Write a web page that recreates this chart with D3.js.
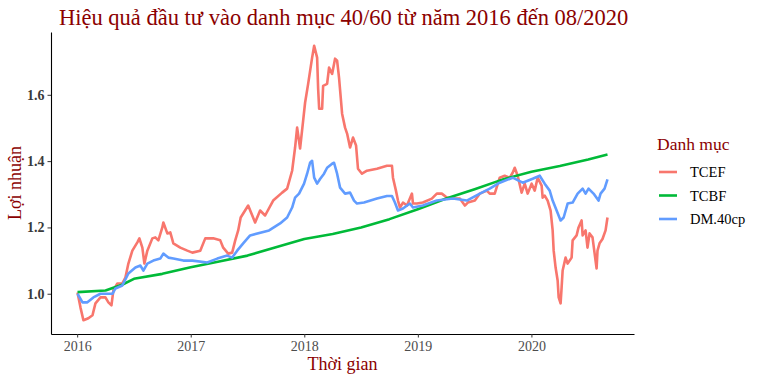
<!DOCTYPE html>
<html><head><meta charset="utf-8">
<script src="https://cdn.jsdelivr.net/npm/d3@7"></script>
<style>body{margin:0;background:#fff}svg{display:block}</style>
</head><body>
<svg id="c" width="762" height="377"></svg>
<script>
// ---- data (decimal year, value) ----
const seriesNames = ["TCEF", "TCBF", "DM.40cp"];
const xTicks = [2016, 2017, 2018, 2019, 2020];
const yTicks = [1.0, 1.2, 1.4, 1.6];

const tcefT = [2016.003,2016.029,2016.055,2016.099,2016.135,2016.161,2016.205,2016.249,2016.275,2016.302,2016.319,2016.354,2016.398,2016.425,2016.451,2016.486,2016.530,2016.548,2016.574,2016.592,2016.618,2016.662,2016.688,2016.715,2016.750,2016.759,2016.794,2016.820,2016.847,2016.908,2016.970,2017.014,2017.084,2017.128,2017.198,2017.260,2017.286,2017.330,2017.365,2017.392,2017.418,2017.440,2017.506,2017.567,2017.611,2017.655,2017.726,2017.805,2017.849,2017.893,2017.919,2017.937,2017.963,2017.990,2018.007,2018.034,2018.069,2018.087,2018.113,2018.122,2018.131,2018.157,2018.166,2018.201,2018.218,2018.245,2018.271,2018.289,2018.306,2018.333,2018.359,2018.377,2018.403,2018.429,2018.456,2018.473,2018.508,2018.552,2018.640,2018.728,2018.772,2018.781,2018.807,2018.825,2018.843,2018.869,2018.904,2018.948,2018.957,2018.992,2019.044,2019.123,2019.167,2019.211,2019.255,2019.308,2019.370,2019.414,2019.440,2019.502,2019.546,2019.607,2019.633,2019.677,2019.721,2019.765,2019.809,2019.835,2019.853,2019.879,2019.914,2019.941,2019.967,2020.002,2020.029,2020.055,2020.090,2020.099,2020.117,2020.143,2020.169,2020.187,2020.196,2020.213,2020.231,2020.240,2020.257,2020.266,2020.275,2020.301,2020.319,2020.354,2020.363,2020.398,2020.415,2020.442,2020.451,2020.477,2020.494,2020.512,2020.538,2020.574,2020.582,2020.600,2020.626,2020.653,2020.670];
const tcefV = [1.004,0.959,0.920,0.926,0.935,0.971,0.989,0.989,0.974,0.965,1.010,1.031,1.031,1.049,1.091,1.130,1.155,1.167,1.139,1.091,1.130,1.167,1.170,1.161,1.200,1.215,1.182,1.185,1.152,1.139,1.130,1.124,1.130,1.167,1.167,1.161,1.139,1.121,1.124,1.161,1.191,1.230,1.266,1.215,1.251,1.236,1.281,1.305,1.317,1.371,1.441,1.501,1.438,1.522,1.576,1.633,1.712,1.748,1.712,1.618,1.558,1.558,1.627,1.633,1.682,1.663,1.709,1.703,1.652,1.543,1.501,1.483,1.441,1.471,1.447,1.377,1.362,1.371,1.377,1.386,1.386,1.350,1.311,1.281,1.260,1.275,1.266,1.302,1.272,1.272,1.275,1.287,1.302,1.302,1.290,1.287,1.287,1.266,1.275,1.281,1.302,1.311,1.302,1.302,1.350,1.356,1.350,1.365,1.380,1.356,1.305,1.332,1.302,1.332,1.311,1.350,1.326,1.290,1.296,1.281,1.251,1.191,1.130,1.079,1.040,0.989,0.971,1.019,1.070,1.109,1.091,1.109,1.161,1.176,1.200,1.221,1.176,1.191,1.139,1.182,1.170,1.076,1.130,1.152,1.165,1.191,1.230];

const tcbfT = [2016.003,2016.250,2016.400,2016.500,2016.750,2017.000,2017.250,2017.500,2017.750,2018.000,2018.250,2018.500,2018.750,2019.000,2019.250,2019.500,2019.750,2020.000,2020.250,2020.500,2020.670];
const tcbfV = [1.005,1.010,1.028,1.045,1.060,1.080,1.097,1.115,1.140,1.165,1.180,1.200,1.225,1.255,1.287,1.315,1.345,1.368,1.385,1.405,1.420];

const dmT = [2016.003,2016.047,2016.090,2016.143,2016.205,2016.267,2016.311,2016.337,2016.398,2016.451,2016.513,2016.557,2016.583,2016.618,2016.671,2016.732,2016.759,2016.803,2016.847,2016.935,2017.014,2017.146,2017.234,2017.321,2017.365,2017.409,2017.462,2017.523,2017.690,2017.787,2017.849,2017.893,2017.919,2017.954,2017.998,2018.025,2018.051,2018.069,2018.087,2018.113,2018.139,2018.174,2018.201,2018.245,2018.262,2018.289,2018.315,2018.359,2018.403,2018.438,2018.464,2018.526,2018.640,2018.728,2018.772,2018.798,2018.825,2018.869,2018.930,2018.957,2019.044,2019.167,2019.308,2019.431,2019.546,2019.633,2019.721,2019.835,2019.923,2020.011,2020.073,2020.117,2020.161,2020.187,2020.222,2020.257,2020.284,2020.319,2020.363,2020.407,2020.451,2020.477,2020.503,2020.547,2020.591,2020.609,2020.644,2020.670];
const dmV = [1.000,0.974,0.974,0.989,1.000,1.000,1.000,1.016,1.025,1.061,1.079,1.085,1.070,1.091,1.100,1.106,1.121,1.109,1.106,1.100,1.100,1.094,1.106,1.115,1.109,1.130,1.152,1.176,1.191,1.212,1.230,1.260,1.290,1.302,1.332,1.362,1.395,1.401,1.350,1.332,1.346,1.362,1.380,1.392,1.395,1.362,1.320,1.302,1.305,1.281,1.272,1.275,1.287,1.295,1.295,1.275,1.251,1.257,1.272,1.260,1.266,1.281,1.287,1.281,1.302,1.317,1.335,1.350,1.335,1.347,1.356,1.332,1.311,1.281,1.251,1.221,1.230,1.272,1.275,1.302,1.317,1.302,1.317,1.302,1.281,1.302,1.317,1.345];

const colors = ["#F8766D", "#00BA38", "#619CFF"];
const seriesT = [tcefT, tcbfT, dmT];
const seriesV = [tcefV, tcbfV, dmV];

// ---- layout ----
const svg = d3.select("#c");
const M = {left: 51, right: 634, top: 32, bottom: 334};
const serif = "'Liberation Serif','DejaVu Serif',serif";
const dark = "#8B0000";

const allT = [].concat(...seriesT), allV = [].concat(...seriesV);
const tExt = d3.extent(allT), vExt = d3.extent(allV);
const tPad = (tExt[1]-tExt[0])*0.05, vPad = (vExt[1]-vExt[0])*0.05;
const x = d3.scaleLinear().domain([tExt[0]-tPad, tExt[1]+tPad]).range([M.left, M.right]);
const y = d3.scaleLinear().domain([vExt[0]-vPad, vExt[1]+vPad]).range([M.bottom, M.top]);

// lines
const line = d3.line().x(d => x(d[0])).y(d => y(d[1]));
seriesNames.forEach((n, i) => {
  const pts = seriesT[i].map((t, j) => [t, seriesV[i][j]]);
  svg.append("path").datum(pts).attr("d", line)
    .attr("fill", "none").attr("stroke", colors[i]).attr("stroke-width", 2.6)
    .attr("stroke-linejoin", "round");
});

// axes
const xAxis = svg.append("g").attr("transform", `translate(0,${M.bottom})`)
  .call(d3.axisBottom(x).tickValues(xTicks).tickFormat(d3.format("d")).tickSizeInner(3.5).tickSizeOuter(0).tickPadding(2));
const yAxis = svg.append("g").attr("transform", `translate(${M.left},0)`)
  .call(d3.axisLeft(y).tickValues(yTicks).tickFormat(d3.format(".1f")).tickSizeInner(3.5).tickSizeOuter(0).tickPadding(3));
[xAxis, yAxis].forEach(g => {
  g.attr("font-family", serif);
  g.select(".domain").attr("stroke", "#000").attr("stroke-width", 1.1);
  g.selectAll(".tick line").attr("stroke", "#333").attr("stroke-width", 1);
  g.selectAll(".tick text").attr("font-family", serif).attr("font-size", 14).attr("fill", "#4D4D4D");
});
yAxis.selectAll(".tick text").attr("font-weight", "bold").attr("fill", "#3a3a3a");
xAxis.selectAll(".tick text").attr("dy", "0.8em");

// titles
svg.append("text").attr("x", 59).attr("y", 25).text("Hiệu quả đầu tư vào danh mục 40/60 từ năm 2016 đến 08/2020")
  .attr("font-family", serif).attr("font-size", 22.5).attr("fill", dark);
svg.append("text").attr("x", (M.left+M.right)/2).attr("y", 370).attr("text-anchor", "middle")
  .text("Thời gian").attr("font-family", serif).attr("font-size", 18).attr("fill", dark);
svg.append("text").attr("transform", `translate(21,${(M.top+M.bottom)/2}) rotate(-90)`).attr("text-anchor", "middle")
  .text("Lợi nhuận").attr("font-family", serif).attr("font-size", 18).attr("fill", dark);

// legend
const lg = svg.append("g");
lg.append("text").attr("x", 657).attr("y", 150).text("Danh mục")
  .attr("font-family", serif).attr("font-size", 17.5).attr("fill", dark);
seriesNames.forEach((n, i) => {
  const cy = 172 + i*23.5;
  lg.append("line").attr("x1", 659).attr("x2", 677).attr("y1", cy).attr("y2", cy)
    .attr("stroke", colors[i]).attr("stroke-width", 2.6);
  lg.append("text").attr("x", 690).attr("y", cy).attr("dy", "0.35em").text(n)
    .attr("font-family", serif).attr("font-size", 14.5).attr("fill", "#000");
});
</script>
</body></html>
